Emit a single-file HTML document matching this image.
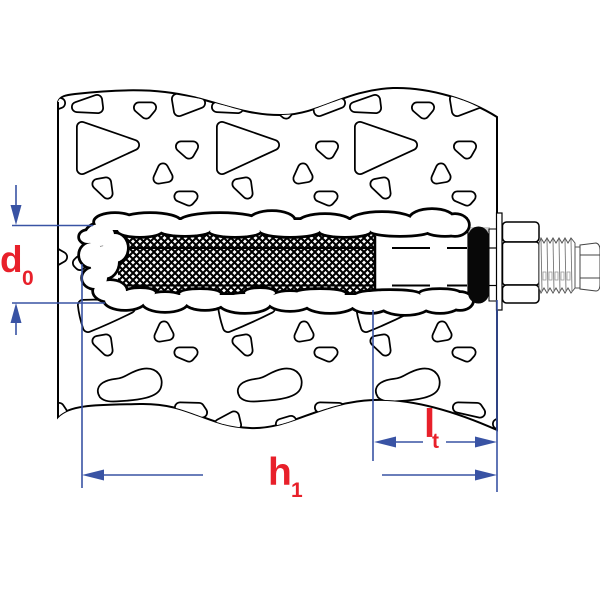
<!DOCTYPE html>
<html><head><meta charset="utf-8"><style>
html,body{margin:0;padding:0;background:#fff;}
svg{display:block;}
text{font-family:"Liberation Sans",Arial,sans-serif;font-weight:bold;fill:#e8202a;}
</style></head><body>
<svg width="600" height="600" viewBox="0 0 600 600" xmlns="http://www.w3.org/2000/svg">
<defs>
<pattern id="mesh" patternUnits="userSpaceOnUse" width="7" height="7">
<rect width="7" height="7" fill="#fff"/>
<path d="M-1,-1 L8,8 M8,-1 L-1,8" stroke="#000" stroke-width="2.1"/>
</pattern>
<clipPath id="wc"><path d="M58,102 C60,96 66,95 75,94 C110,90 140,89 165,92 C210,97 240,116 283,115 C320,114 345,90 393,88 C430,87 470,100 497,117 L497,430 C470,418 420,398 373,400 C320,402 290,430 250,428 C205,426 190,403 140,404 C100,405 70,404 58,417 Z"/></clipPath>
<g id="t">
<polygon points="77,107 97,100 98,108"/>
<polygon points="139,107.5 151,107.5 146,113.5"/>
<polygon points="177,99 200,103 179,111"/>
<polygon points="82,127 134,145 82,169"/>
<polygon points="181,146.5 193,146.5 189,153.5"/>
<polygon points="163,168.5 167.5,177 158.5,178.5"/>
<polygon points="97.5,184 106,182.5 107.5,193.5"/>
<polygon points="179.5,196.5 192.5,196.5 189,200.5"/>
<path d="M83,305 Q110,304 130,308 Q110,318 88,327 Q84,315 83,305Z"/>
<polygon points="164,326.5 168.5,335 159.5,336.5"/>
<polygon points="97.5,341 106,339.5 107.5,350.5"/>
<polygon points="179.5,352.5 192.5,352.5 189,356.5"/>
<path d="M104,394 C100,388 108,385 116,384 C128,383 132,376 143,374 C155,372 158,380 156,386 C154,392 140,395 120,396 C110,397 106,396 104,394 Z"/>
<polygon points="180,407.5 199,408 202,412.5"/>
<polygon points="220,424 234,416.5 236,425"/>
<polygon points="141,424 151,421 152,427"/>
</g>
<g id="cl">
<ellipse cx="115" cy="222" rx="20" ry="8"/>
<ellipse cx="150" cy="222" rx="30" ry="8"/>
<ellipse cx="220" cy="222" rx="40" ry="8"/>
<ellipse cx="272" cy="221" rx="22" ry="9"/>
<ellipse cx="325" cy="223" rx="26" ry="8"/>
<ellipse cx="382" cy="222" rx="32" ry="9"/>
<ellipse cx="432" cy="220" rx="22" ry="10"/>
<ellipse cx="455" cy="225" rx="13" ry="10"/>
<rect x="105" y="220" width="360" height="10"/>
<ellipse cx="140" cy="230" rx="22" ry="6"/>
<ellipse cx="185" cy="230" rx="25" ry="5"/>
<ellipse cx="235" cy="231" rx="25" ry="5"/>
<ellipse cx="290" cy="230" rx="30" ry="6"/>
<ellipse cx="345" cy="231" rx="25" ry="5"/>
<ellipse cx="400" cy="230" rx="30" ry="5"/>
<ellipse cx="445" cy="229" rx="20" ry="6"/>
<ellipse cx="125" cy="300" rx="20" ry="9"/>
<ellipse cx="165" cy="302" rx="22" ry="9"/>
<ellipse cx="205" cy="301" rx="20" ry="8"/>
<ellipse cx="245" cy="303" rx="25" ry="9"/>
<ellipse cx="290" cy="301" rx="22" ry="9"/>
<ellipse cx="330" cy="303" rx="25" ry="9"/>
<ellipse cx="370" cy="302" rx="20" ry="10"/>
<ellipse cx="405" cy="304" rx="25" ry="10"/>
<ellipse cx="440" cy="303" rx="20" ry="9"/>
<ellipse cx="460" cy="301" rx="12" ry="8"/>
<rect x="110" y="295" width="355" height="8"/>
<ellipse cx="140" cy="293" rx="15" ry="4"/>
<ellipse cx="200" cy="294" rx="20" ry="4"/>
<ellipse cx="260" cy="293" rx="15" ry="4"/>
<ellipse cx="320" cy="294" rx="25" ry="4"/>
<ellipse cx="390" cy="295" rx="30" ry="4"/>
<ellipse cx="440" cy="294" rx="20" ry="4"/>
<ellipse cx="100" cy="235" rx="14" ry="11"/>
<ellipse cx="88" cy="237" rx="8" ry="6"/>
<ellipse cx="92" cy="255" rx="12" ry="12"/>
<ellipse cx="104" cy="262" rx="14" ry="16"/>
<ellipse cx="95" cy="278" rx="12" ry="10"/>
<ellipse cx="110" cy="291" rx="16" ry="10"/>
<ellipse cx="115" cy="248" rx="12" ry="14"/>
</g>
</defs>

<!-- wall -->
<path d="M58,102 C60,96 66,95 75,94 C110,90 140,89 165,92 C210,97 240,116 283,115 C320,114 345,90 393,88 C430,87 470,100 497,117 L497,430 C470,418 420,398 373,400 C320,402 290,430 250,428 C205,426 190,403 140,404 C100,405 70,404 58,417 Z" fill="#fff" stroke="#000" stroke-width="2"/>
<g clip-path="url(#wc)">
<g fill="#000" stroke="#000" stroke-width="12" stroke-linejoin="round">
<use href="#t" x="-140"/>
<use href="#t"/>
<use href="#t" x="140"/>
<use href="#t" x="278"/>
<polygon points="55,253 62,257 55,261"/>
<polygon points="78,263 80,261 80,265"/>
</g>
<g fill="#fff" stroke="#fff" stroke-width="8.5" stroke-linejoin="round">
<use href="#t" x="-140"/>
<use href="#t"/>
<use href="#t" x="140"/>
<use href="#t" x="278"/>
<polygon points="55,253 62,257 55,261"/>
<polygon points="78,263 80,261 80,265"/>
</g>
</g>
<path d="M58,102 L58,417 M497,117 L497,430" stroke="#000" stroke-width="2" fill="none"/>

<!-- mesh and sleeve -->
<rect x="118" y="228" width="258" height="68" fill="url(#mesh)"/>
<rect x="375" y="230" width="93" height="64" fill="#fff" stroke="#000" stroke-width="1.2"/>
<rect x="455" y="227" width="35" height="5" fill="#ccc"/>
<line x1="375" y1="236" x2="375" y2="292" stroke="#000" stroke-width="2.5"/>
<g stroke="#000" stroke-width="2">
<line x1="120" y1="248" x2="375" y2="248"/>
<line x1="120" y1="285.5" x2="375" y2="285.5"/>
<line x1="392" y1="248" x2="430" y2="248"/>
<line x1="447" y1="248" x2="467" y2="248"/>
<line x1="392" y1="285.5" x2="430" y2="285.5"/>
<line x1="447" y1="285.5" x2="467" y2="285.5"/>
</g>

<!-- mortar clouds -->
<use href="#cl" fill="#000" stroke="#000" stroke-width="5.5"/>
<use href="#cl" fill="#fff" stroke="none"/>

<!-- O-ring and small piece -->
<rect x="489" y="229" width="8" height="72" fill="#fff" stroke="#000" stroke-width="1"/>
<line x1="489" y1="248" x2="497" y2="248" stroke="#000" stroke-width="1.2"/>
<line x1="489" y1="285.5" x2="497" y2="285.5" stroke="#000" stroke-width="1.2"/>
<rect x="468" y="226.5" width="21" height="77" rx="10.5" fill="#080808"/>

<!-- washer -->
<rect x="496.5" y="213" width="5.5" height="97" fill="#fff" stroke="#000" stroke-width="1.2"/>
<!-- nut -->
<g fill="#fff" stroke="#000" stroke-width="1.5">
<rect x="502.5" y="222" width="36.5" height="20" rx="4"/>
<rect x="502.5" y="242" width="36.5" height="43" rx="3"/>
<rect x="502.5" y="285" width="36.5" height="18" rx="4"/>
</g>
<!-- thread -->
<path d="M539,243 L541,238 L544,243 L547,238 L550,243 L553,238 L556,243 L559,238 L562,243 L565,238 L568,243 L571,238 L575,243 L575,288 L571,293 L568,288 L565,293 L562,288 L559,293 L556,288 L553,293 L550,288 L547,293 L544,288 L541,293 L539,288 Z" fill="#fff" stroke="#555" stroke-width="1"/>
<g stroke="#777" stroke-width="0.9">
<line x1="541" y1="239" x2="542" y2="292"/>
<line x1="547" y1="239" x2="548" y2="292"/>
<line x1="553" y1="239" x2="554" y2="292"/>
<line x1="559" y1="239" x2="560" y2="292"/>
<line x1="565" y1="239" x2="566" y2="292"/>
<line x1="571" y1="239" x2="572" y2="292"/>
</g>
<g fill="none" stroke="#999" stroke-width="0.8">
<rect x="543" y="272" width="3" height="8"/>
<rect x="549" y="272" width="3" height="8"/>
<rect x="555" y="272" width="3" height="8"/>
<rect x="561" y="272" width="3" height="8"/>
<rect x="567" y="272" width="3" height="8"/>
</g>
<!-- end cap -->
<rect x="575" y="247" width="5" height="41" fill="#fff" stroke="#555" stroke-width="1"/>
<path d="M580,245 L596,243 Q600,244 600,250 L600,284 Q600,291 596,291 L580,289 Z" fill="#fff" stroke="#444" stroke-width="1"/>
<line x1="580" y1="255" x2="600" y2="255" stroke="#444" stroke-width="1"/>
<line x1="580" y1="278" x2="600" y2="278" stroke="#444" stroke-width="1"/>

<!-- dimension lines -->
<g stroke="#3953a4" stroke-width="1.6" fill="none">
<line x1="12" y1="225.5" x2="93" y2="225.5"/>
<line x1="12" y1="303" x2="105" y2="303"/>
<line x1="16" y1="185" x2="16" y2="208"/>
<line x1="16" y1="320" x2="16" y2="335"/>
<line x1="82" y1="264" x2="82" y2="488"/>
<line x1="373" y1="310" x2="373" y2="461"/>
<line x1="497" y1="300" x2="497" y2="492"/>
<line x1="100" y1="475" x2="203" y2="475"/>
<line x1="382" y1="475" x2="480" y2="475"/>
<line x1="392" y1="442" x2="423" y2="442"/>
<line x1="446" y1="442" x2="480" y2="442"/>
</g>
<g fill="#3953a4">
<polygon points="10.5,205 21.5,205 16,225"/>
<polygon points="10.5,323 21.5,323 16,303"/>
<polygon points="82,475 104,469.5 104,480.5"/>
<polygon points="497,475 475,469.5 475,480.5"/>
<polygon points="374,442 396,436.5 396,447.5"/>
<polygon points="497,442 475,436.5 475,447.5"/>
</g>

<!-- labels -->
<text x="0" y="272" font-size="37">d</text>
<text x="22" y="285" font-size="21">0</text>
<text x="268" y="485" font-size="39">h</text>
<text x="291" y="497" font-size="21">1</text>
<text x="424" y="437" font-size="40">l</text>
<text x="432" y="448" font-size="21">t</text>
</svg>
</body></html>
